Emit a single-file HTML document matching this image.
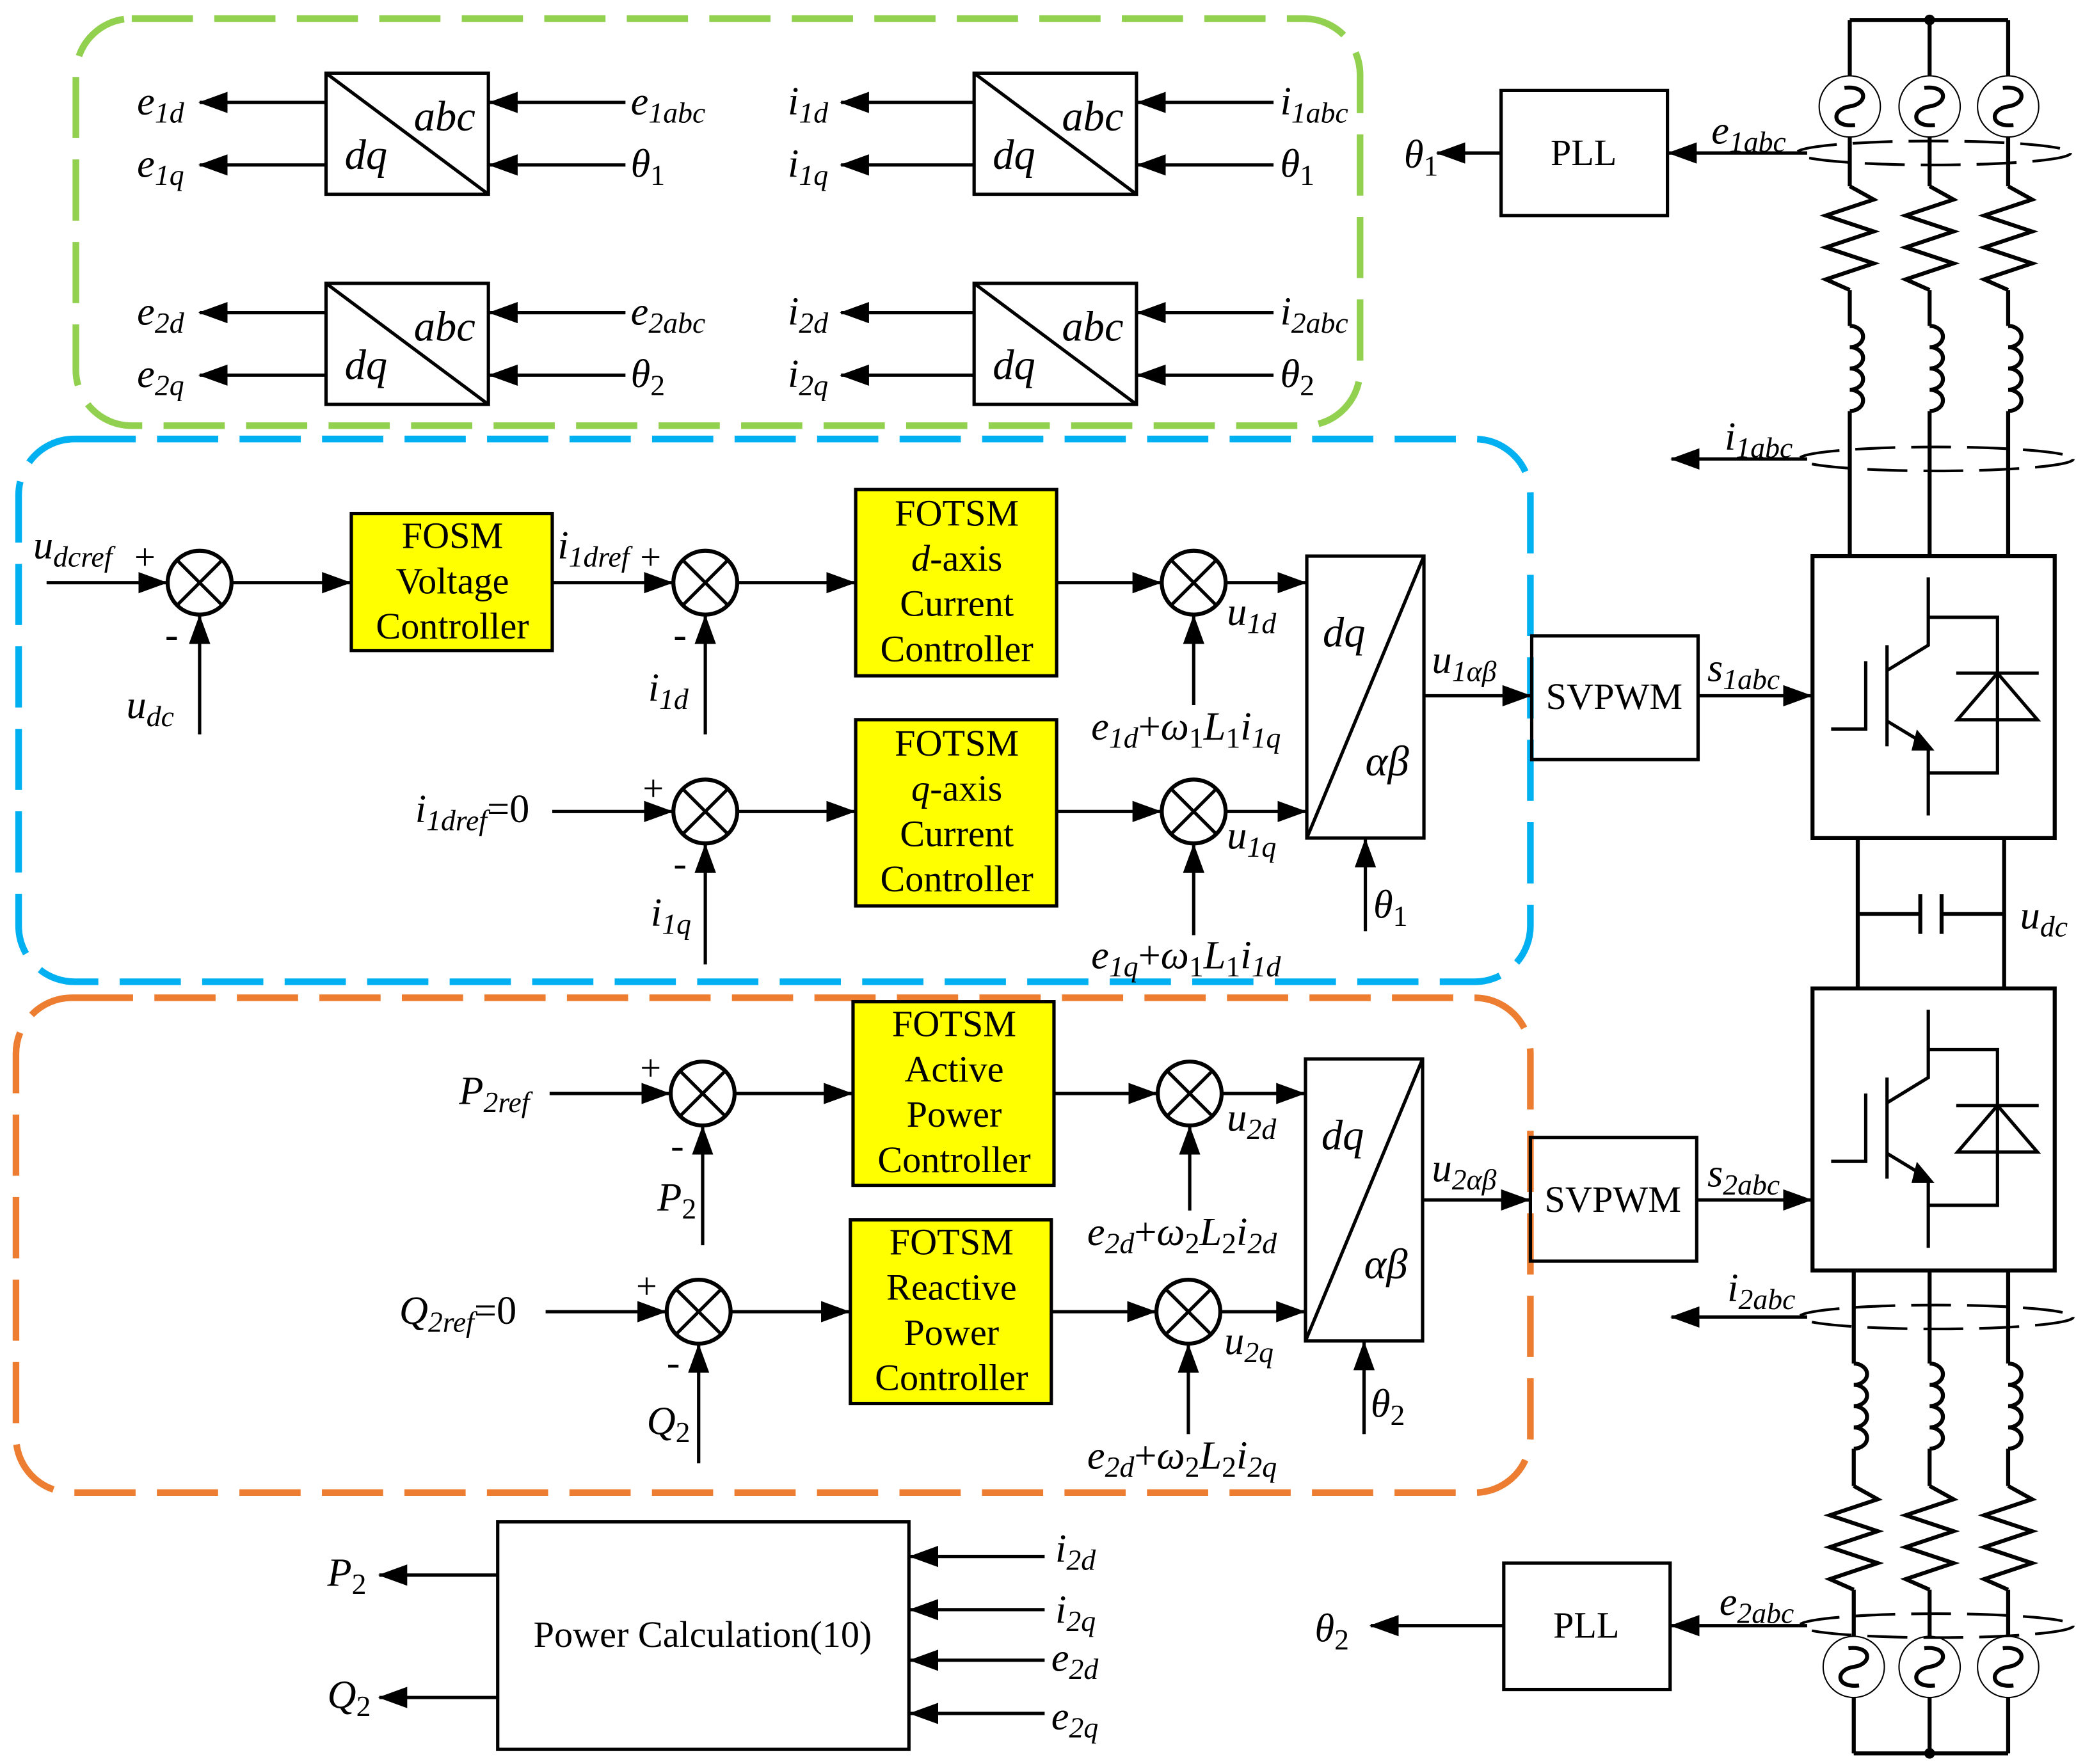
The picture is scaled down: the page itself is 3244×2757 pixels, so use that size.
<!DOCTYPE html>
<html><head><meta charset="utf-8"><style>
html,body{margin:0;padding:0;background:#fff;}
svg{display:block;}
text{font-family:"Liberation Serif",serif;font-size:30px;fill:#000;}
.i{font-style:italic;}
.s{font-size:22px;}
.b{font-size:28px;font-style:normal;}
.big{font-size:32px;}
</style></head><body>
<svg width="3244" height="2757" viewBox="0 0 1560 1326" preserveAspectRatio="none" xmlns="http://www.w3.org/2000/svg">
<defs>
<marker id="a" markerWidth="22" markerHeight="16" refX="21" refY="8" orient="auto" markerUnits="userSpaceOnUse"><path d="M0,0 L22,8 L0,16 z" fill="#000"/></marker>
<g id="sum"><circle cx="0" cy="0" r="24" fill="#fff" stroke="#000" stroke-width="3"/><path d="M-17,-17 L17,17 M17,-17 L-17,17" stroke="#000" stroke-width="2.5"/></g>
<g id="src"><ellipse cx="0" cy="0" rx="23" ry="23" fill="#fff" stroke="#000" stroke-width="1"/><path d="M-4,-14 C14,-16 14,-2 0,0 C-14,2 -14,16 4,14" fill="none" stroke="#000" stroke-width="3"/></g>
<path id="res" d="M0,0 L18,10 L-18,22 L18,34 L-18,46 L18,58 L-18,70 L0,78" fill="none" stroke="#000" stroke-width="3"/>
<path id="ind" d="M0,0 a10,8 0 0 1 0,16 a10,8 0 0 1 0,16 a10,8 0 0 1 0,16 a10,8 0 0 1 0,16" fill="none" stroke="#000" stroke-width="3"/>
<g id="igbt" fill="none" stroke="#000" stroke-width="2.5">
<rect x="0" y="0" width="182" height="212" stroke-width="3"/>
<path d="M14,130 L40,130 L40,79"/>
<path d="M56,67 L56,143"/>
<path d="M56,86 L87,67 L87,16"/>
<path d="M87,46 L139,46 L139,163 L87,163"/>
<path d="M56,124 L84,141"/>
<path d="M87,143 L87,195"/>
<path d="M108,88 L170,88"/>
<path d="M109,123 L169,123 L139,88 Z"/>
<path d="M79,133 L89,145 L76,145 Z" fill="#000"/>
</g>
</defs>
<g fill="none" stroke-width="5" stroke-dasharray="46 16">
<rect x="57" y="14" width="965" height="306" rx="42" stroke="#92d050"/>
<rect x="14" y="330" width="1136" height="408" rx="42" stroke="#00b0f0"/>
<rect x="12" y="750" width="1138" height="372" rx="42" stroke="#ed7d31"/>
</g>
<g stroke="#000" stroke-width="2.5" fill="none">
<rect x="245" y="55" width="122" height="91"/><path d="M245,55 L367,146"/>
<rect x="732" y="55" width="122" height="91"/><path d="M732,55 L854,146"/>
<rect x="245" y="213" width="122" height="91"/><path d="M245,213 L367,304"/>
<rect x="732" y="213" width="122" height="91"/><path d="M732,213 L854,304"/>
<g marker-end="url(#a)">
<path d="M245,77 L150,77"/><path d="M245,124 L150,124"/><path d="M470,77 L368,77"/><path d="M470,124 L368,124"/>
<path d="M732,77 L632,77"/><path d="M732,124 L632,124"/><path d="M957,77 L855,77"/><path d="M957,124 L855,124"/>
<path d="M245,235 L150,235"/><path d="M245,282 L150,282"/><path d="M470,235 L368,235"/><path d="M470,282 L368,282"/>
<path d="M732,235 L632,235"/><path d="M732,282 L632,282"/><path d="M957,235 L855,235"/><path d="M957,282 L855,282"/>
<path d="M35,438 L125,438"/><path d="M150,552 L150,463"/><path d="M174,438 L263,438"/>
<path d="M415,438 L505,438"/><path d="M530,552 L530,463"/><path d="M554,438 L642,438"/>
<path d="M794,438 L872,438"/><path d="M897,530 L897,463"/><path d="M921,438 L981,438"/>
<path d="M415,610 L505,610"/><path d="M530,725 L530,635"/><path d="M554,610 L642,610"/>
<path d="M794,610 L872,610"/><path d="M897,703 L897,635"/><path d="M921,610 L981,610"/>
<path d="M1026,700 L1026,631"/>
<path d="M1070,523 L1150,523"/><path d="M1276,523 L1361,523"/>
<path d="M413,822 L503,822"/><path d="M528,936 L528,847"/><path d="M552,822 L640,822"/>
<path d="M792,822 L869,822"/><path d="M894,910 L894,847"/><path d="M918,822 L980,822"/>
<path d="M410,986 L500,986"/><path d="M525,1100 L525,1011"/><path d="M549,986 L638,986"/>
<path d="M790,986 L868,986"/><path d="M893,1078 L893,1011"/><path d="M917,986 L980,986"/>
<path d="M1025,1078 L1025,1009"/>
<path d="M1070,902 L1149,902"/><path d="M1275,902 L1361,902"/>
<path d="M374,1184 L285,1184"/><path d="M374,1276 L285,1276"/>
<path d="M785,1170 L684,1170"/><path d="M785,1210 L684,1210"/><path d="M785,1248 L684,1248"/><path d="M785,1288 L684,1288"/>
<path d="M1358,115 L1254,115"/><path d="M1128,115 L1080,115"/>
<path d="M1358,345 L1256,345"/>
<path d="M1358,990 L1256,990"/>
<path d="M1358,1222 L1256,1222"/><path d="M1130,1222 L1030,1222"/>
</g>
<rect x="982" y="418" width="88" height="212"/><path d="M982,630 L1070,418"/>
<rect x="981" y="796" width="88" height="212"/><path d="M981,1008 L1069,796"/>
<rect x="1151" y="478" width="125" height="93"/>
<rect x="1150" y="855" width="125" height="93"/>
<rect x="1128" y="68" width="125" height="94"/>
<rect x="1130" y="1175" width="125" height="95"/>
<rect x="374" y="1144" width="309" height="171"/>
</g>
<g fill="#ff0" stroke="#000" stroke-width="2.5">
<rect x="264" y="386" width="151" height="103"/>
<rect x="643" y="368" width="151" height="140"/>
<rect x="643" y="541" width="151" height="140"/>
<rect x="641" y="753" width="151" height="138"/>
<rect x="639" y="917" width="151" height="138"/>
</g>
<use href="#sum" x="150" y="438"/><use href="#sum" x="530" y="438"/><use href="#sum" x="897" y="438"/>
<use href="#sum" x="530" y="610"/><use href="#sum" x="897" y="610"/>
<use href="#sum" x="528" y="822"/><use href="#sum" x="894" y="822"/>
<use href="#sum" x="525" y="986"/><use href="#sum" x="893" y="986"/>
<g stroke="#000" stroke-width="3" fill="none">
<path d="M1390,15 L1509,15"/>
<path d="M1390,15 L1390,57 M1450,15 L1450,57 M1509,15 L1509,57"/>
<path d="M1390,103 L1390,140 M1450,103 L1450,140 M1509,103 L1509,140"/>
<path d="M1390,218 L1390,245 M1450,218 L1450,245 M1509,218 L1509,245"/>
<path d="M1390,309 L1390,418 M1450,309 L1450,418 M1509,309 L1509,418"/>
<path d="M1396,630 L1396,743 M1506,630 L1506,743"/>
<path d="M1396,687 L1443,687 M1443,672 L1443,702 M1459,672 L1459,702 M1459,687 L1506,687"/>
<path d="M1393,955 L1393,1025 M1450,955 L1450,1025 M1509,955 L1509,1025"/>
<path d="M1393,1089 L1393,1117 M1450,1089 L1450,1117 M1509,1089 L1509,1117"/>
<path d="M1393,1195 L1393,1230 M1450,1195 L1450,1230 M1509,1195 L1509,1230"/>
<path d="M1393,1276 L1393,1318 M1450,1276 L1450,1318 M1509,1276 L1509,1318 M1393,1318 L1509,1318"/>
</g>
<circle cx="1450" cy="15" r="4"/><circle cx="1450" cy="1318" r="4"/>
<use href="#src" x="1390" y="80"/><use href="#src" x="1450" y="80"/><use href="#src" x="1509" y="80"/>
<use href="#src" x="1393" y="1253"/><use href="#src" x="1450" y="1253"/><use href="#src" x="1509" y="1253"/>
<use href="#res" x="1390" y="140"/><use href="#res" x="1450" y="140"/><use href="#res" x="1509" y="140"/>
<use href="#res" x="1393" y="1117"/><use href="#res" x="1450" y="1117"/><use href="#res" x="1509" y="1117"/>
<use href="#ind" x="1390" y="245"/><use href="#ind" x="1450" y="245"/><use href="#ind" x="1509" y="245"/>
<use href="#ind" x="1393" y="1025"/><use href="#ind" x="1450" y="1025"/><use href="#ind" x="1509" y="1025"/>
<g fill="none" stroke="#000" stroke-width="2" stroke-dasharray="30 12">
<ellipse cx="1453" cy="115" rx="103" ry="9"/>
<ellipse cx="1455" cy="345" rx="103" ry="9"/>
<ellipse cx="1455" cy="990" rx="103" ry="9"/>
<ellipse cx="1455" cy="1222" rx="103" ry="9"/>
</g>
<use href="#igbt" x="1362" y="418"/>
<use href="#igbt" x="1362" y="743"/>
<g class="i">
<text x="103" y="86" class="i">e<tspan class="s" dy="6">1d</tspan></text>
<text x="103" y="133" class="i">e<tspan class="s" dy="6">1q</tspan></text>
<text x="474" y="86" class="i">e<tspan class="s" dy="6">1abc</tspan></text>
<text x="474" y="133" class="i">θ<tspan class="s" dy="6" font-style="normal">1</tspan></text>
<text x="592" y="86" class="i">i<tspan class="s" dy="6">1d</tspan></text>
<text x="592" y="133" class="i">i<tspan class="s" dy="6">1q</tspan></text>
<text x="962" y="86" class="i">i<tspan class="s" dy="6">1abc</tspan></text>
<text x="962" y="133" class="i">θ<tspan class="s" dy="6" font-style="normal">1</tspan></text>
<text x="103" y="244" class="i">e<tspan class="s" dy="6">2d</tspan></text>
<text x="103" y="291" class="i">e<tspan class="s" dy="6">2q</tspan></text>
<text x="474" y="244" class="i">e<tspan class="s" dy="6">2abc</tspan></text>
<text x="474" y="291" class="i">θ<tspan class="s" dy="6" font-style="normal">2</tspan></text>
<text x="592" y="244" class="i">i<tspan class="s" dy="6">2d</tspan></text>
<text x="592" y="291" class="i">i<tspan class="s" dy="6">2q</tspan></text>
<text x="962" y="244" class="i">i<tspan class="s" dy="6">2abc</tspan></text>
<text x="962" y="291" class="i">θ<tspan class="s" dy="6" font-style="normal">2</tspan></text>
<text x="311" y="98" class="i big">abc</text><text x="259" y="127" class="i big">dq</text>
<text x="798" y="98" class="i big">abc</text><text x="746" y="127" class="i big">dq</text>
<text x="311" y="256" class="i big">abc</text><text x="259" y="285" class="i big">dq</text>
<text x="798" y="256" class="i big">abc</text><text x="746" y="285" class="i big">dq</text>
<text x="1055" y="126" class="i">θ<tspan class="s" dy="6" font-style="normal">1</tspan></text>
<text x="1286" y="108" class="i">e<tspan class="s" dy="6">1abc</tspan></text>
<text x="1296" y="338" class="i">i<tspan class="s" dy="6">1abc</tspan></text>
<text x="1298" y="978" class="i">i<tspan class="s" dy="6">2abc</tspan></text>
<text x="1292" y="1214" class="i">e<tspan class="s" dy="6">2abc</tspan></text>
<text x="988" y="1234" class="i">θ<tspan class="s" dy="6" font-style="normal">2</tspan></text>
<text x="1518" y="698" class="i">u<tspan class="s" dy="6">dc</tspan></text>
<text x="1283" y="512" class="i">s<tspan class="s" dy="6">1abc</tspan></text>
<text x="1283" y="892" class="i">s<tspan class="s" dy="6">2abc</tspan></text>
<text x="1076" y="506" class="i">u<tspan class="s" dy="6">1αβ</tspan></text>
<text x="1076" y="888" class="i">u<tspan class="s" dy="6">2αβ</tspan></text>
<text x="994" y="486" class="i big">dq</text><text x="1026" y="583" class="i big">αβ</text>
<text x="993" y="864" class="i big">dq</text><text x="1025" y="961" class="i big">αβ</text>
<text x="25" y="420" class="i">u<tspan class="s" dy="6">dcref</tspan></text>
<text x="95" y="540" class="i">u<tspan class="s" dy="6">dc</tspan></text>
<text x="419" y="420" class="i">i<tspan class="s" dy="6">1dref</tspan></text>
<text x="487" y="527" class="i">i<tspan class="s" dy="6">1d</tspan></text>
<text x="312" y="618" class="i">i<tspan class="s" dy="6">1dref</tspan><tspan dy="-6" font-style="normal">=0</tspan></text>
<text x="489" y="696" class="i">i<tspan class="s" dy="6">1q</tspan></text>
<text x="922" y="470" class="i">u<tspan class="s" dy="6">1d</tspan></text>
<text x="922" y="638" class="i">u<tspan class="s" dy="6">1q</tspan></text>
<text x="820" y="556" class="i">e<tspan class="s" dy="6">1d</tspan><tspan dy="-6" font-style="normal">+</tspan>ω<tspan class="s" dy="6" font-style="normal">1</tspan><tspan dy="-6">L</tspan><tspan class="s" dy="6" font-style="normal">1</tspan><tspan dy="-6">i</tspan><tspan class="s" dy="6">1q</tspan></text>
<text x="820" y="728" class="i">e<tspan class="s" dy="6">1q</tspan><tspan dy="-6" font-style="normal">+</tspan>ω<tspan class="s" dy="6" font-style="normal">1</tspan><tspan dy="-6">L</tspan><tspan class="s" dy="6" font-style="normal">1</tspan><tspan dy="-6">i</tspan><tspan class="s" dy="6">1d</tspan></text>
<text x="1032" y="690" class="i">θ<tspan class="s" dy="6" font-style="normal">1</tspan></text>
<text x="345" y="830" class="i">P<tspan class="s" dy="6">2ref</tspan></text>
<text x="494" y="910" class="i">P<tspan class="s" dy="6" font-style="normal">2</tspan></text>
<text x="300" y="995" class="i">Q<tspan class="s" dy="6">2ref</tspan><tspan dy="-6" font-style="normal">=0</tspan></text>
<text x="486" y="1078" class="i">Q<tspan class="s" dy="6" font-style="normal">2</tspan></text>
<text x="922" y="850" class="i">u<tspan class="s" dy="6">2d</tspan></text>
<text x="920" y="1018" class="i">u<tspan class="s" dy="6">2q</tspan></text>
<text x="817" y="936" class="i">e<tspan class="s" dy="6">2d</tspan><tspan dy="-6" font-style="normal">+</tspan>ω<tspan class="s" dy="6" font-style="normal">2</tspan><tspan dy="-6">L</tspan><tspan class="s" dy="6" font-style="normal">2</tspan><tspan dy="-6">i</tspan><tspan class="s" dy="6">2d</tspan></text>
<text x="817" y="1104" class="i">e<tspan class="s" dy="6">2d</tspan><tspan dy="-6" font-style="normal">+</tspan>ω<tspan class="s" dy="6" font-style="normal">2</tspan><tspan dy="-6">L</tspan><tspan class="s" dy="6" font-style="normal">2</tspan><tspan dy="-6">i</tspan><tspan class="s" dy="6">2q</tspan></text>
<text x="1030" y="1065" class="i">θ<tspan class="s" dy="6" font-style="normal">2</tspan></text>
<text x="246" y="1192" class="i">P<tspan class="s" dy="6" font-style="normal">2</tspan></text>
<text x="246" y="1284" class="i">Q<tspan class="s" dy="6" font-style="normal">2</tspan></text>
<text x="793" y="1174" class="i">i<tspan class="s" dy="6">2d</tspan></text>
<text x="793" y="1220" class="i">i<tspan class="s" dy="6">2q</tspan></text>
<text x="790" y="1256" class="i">e<tspan class="s" dy="6">2d</tspan></text>
<text x="790" y="1300" class="i">e<tspan class="s" dy="6">2q</tspan></text>
</g>
<g>
<text x="101" y="428" style="font-size:28px">+</text><text x="124" y="487" style="font-size:30px">-</text>
<text x="481" y="428" style="font-size:28px">+</text><text x="506" y="487" style="font-size:30px">-</text>
<text x="483" y="602" style="font-size:28px">+</text><text x="506" y="659" style="font-size:30px">-</text>
<text x="481" y="812" style="font-size:28px">+</text><text x="504" y="871" style="font-size:30px">-</text>
<text x="478" y="976" style="font-size:28px">+</text><text x="501" y="1034" style="font-size:30px">-</text>
</g>
<g text-anchor="middle" class="b">
<text x="340" y="412" class="b">FOSM</text><text x="340" y="446" class="b">Voltage</text><text x="340" y="480" class="b">Controller</text>
<text x="719" y="395" class="b">FOTSM</text><text x="719" y="429" class="b"><tspan font-style="italic">d</tspan>-axis</text><text x="719" y="463" class="b">Current</text><text x="719" y="497" class="b">Controller</text>
<text x="719" y="568" class="b">FOTSM</text><text x="719" y="602" class="b"><tspan font-style="italic">q</tspan>-axis</text><text x="719" y="636" class="b">Current</text><text x="719" y="670" class="b">Controller</text>
<text x="717" y="779" class="b">FOTSM</text><text x="717" y="813" class="b">Active</text><text x="717" y="847" class="b">Power</text><text x="717" y="881" class="b">Controller</text>
<text x="715" y="943" class="b">FOTSM</text><text x="715" y="977" class="b">Reactive</text><text x="715" y="1011" class="b">Power</text><text x="715" y="1045" class="b">Controller</text>
<text x="1213" y="533" class="b">SVPWM</text>
<text x="1212" y="911" class="b">SVPWM</text>
<text x="1190" y="124" class="b">PLL</text>
<text x="1192" y="1231" class="b">PLL</text>
<text x="528" y="1238" class="b">Power Calculation(10)</text>
</g>
</svg>
</body></html>
